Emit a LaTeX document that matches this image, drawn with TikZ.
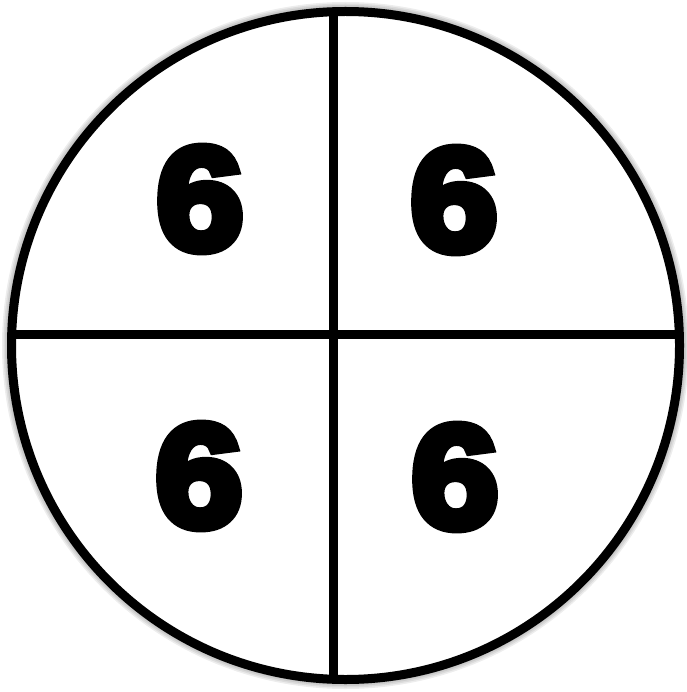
\documentclass[tikz,border=0pt]{standalone}
\usepackage{fontspec}
\newfontfamily\digitfont{Liberation Sans Bold}[FakeBold=6.5,FakeStretch=1.08]
\begin{document}
\begin{tikzpicture}[x=1pt,y=-1pt,
  rim/.style={draw=black,line width=9pt},
  shade/.style={draw=black,line width=#1,draw opacity=0.07},
  digit/.style={inner sep=0pt,font=\digitfont\fontsize{146}{146}\selectfont}]
\useasboundingbox (0,0) rectangle (686,692);
\coordinate (c) at (345.5,345.5);
\coordinate (top) at (333,11.7);
\coordinate (bot) at (333,679.3);
\coordinate (lft) at (11.7,334);
\coordinate (rgt) at (679.3,334);
% blurred drop shadow
\begin{scope}[shift={(2,5)}]
\foreach \w in {10pt,13pt,16pt,19pt}{
  \draw[shade=\w] (c) circle (334);
  \draw[shade=\w] (top) -- (bot);
  \draw[shade=\w] (lft) -- (rgt);
}
\end{scope}
\fill[white] (c) circle (334);
\draw[rim] (c) circle (334);
\draw[rim] (top) -- (bot);
\draw[rim] (lft) -- (rgt);
\node[digit] (q1) at (200,199) {6};
\node[digit] (q2) at (454,200) {6};
\node[digit] (q3) at (199,476) {6};
\node[digit] (q4) at (455,477) {6};
\end{tikzpicture}
\end{document}
